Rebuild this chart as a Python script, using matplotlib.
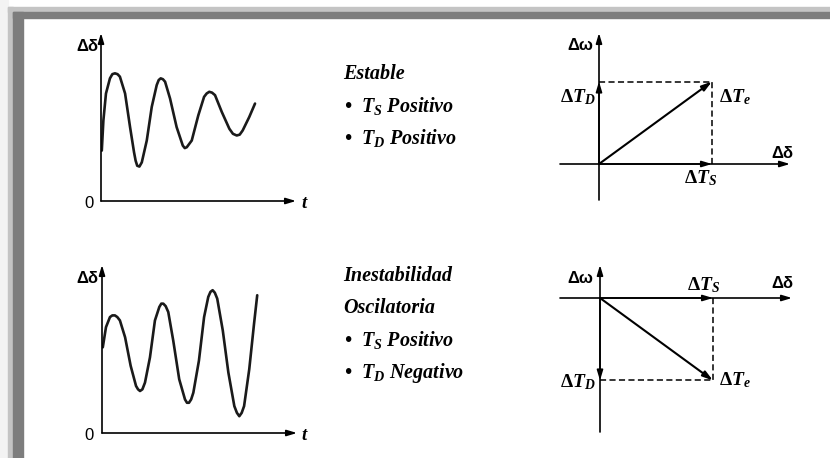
import matplotlib
matplotlib.use('Agg')
import matplotlib.pyplot as plt
from matplotlib.patches import Rectangle

# rotor angle response (time in arbitrary units, angle deviation normalised)
t_stable = [0.04, 0.12, 0.25, 0.45, 0.57, 0.70, 0.83, 0.95, 1.21, 1.46, 1.66, 1.74,
            1.82, 1.93, 2.05, 2.30, 2.55, 2.80, 2.90, 3.00, 3.11, 3.22, 3.47, 3.80,
            4.11, 4.21, 4.31, 4.56, 4.89, 5.18, 5.31, 5.44, 5.58, 5.73, 6.07, 6.45,
            6.63, 6.82, 6.97, 7.12, 7.45, 7.74]
d_stable = [0.30, 0.48, 0.64, 0.73, 0.755, 0.76, 0.755, 0.74, 0.64, 0.44, 0.29, 0.24,
            0.21, 0.205, 0.23, 0.36, 0.56, 0.69, 0.72, 0.73, 0.725, 0.71, 0.61, 0.44,
            0.33, 0.315, 0.32, 0.36, 0.51, 0.62, 0.64, 0.65, 0.645, 0.63, 0.53, 0.43,
            0.40, 0.39, 0.395, 0.42, 0.50, 0.58]

t_osc = [0.04, 0.20, 0.40, 0.52, 0.65, 0.77, 0.90, 1.16, 1.44, 1.71, 1.81, 1.91,
         2.03, 2.16, 2.41, 2.66, 2.88, 2.98, 3.08, 3.20, 3.33, 3.58, 3.88, 4.17,
         4.27, 4.37, 4.48, 4.59, 4.87, 5.13, 5.34, 5.45, 5.56, 5.67, 5.79, 6.07,
         6.35, 6.65, 6.78, 6.90, 7.02, 7.14, 7.40, 7.64, 7.80]
d_osc = [0.51, 0.63, 0.69, 0.70, 0.70, 0.69, 0.67, 0.57, 0.40, 0.28, 0.26, 0.25,
         0.26, 0.30, 0.45, 0.67, 0.75, 0.77, 0.77, 0.755, 0.72, 0.55, 0.32, 0.20,
         0.18, 0.18, 0.20, 0.24, 0.43, 0.69, 0.81, 0.84, 0.85, 0.835, 0.80, 0.61,
         0.36, 0.16, 0.12, 0.10, 0.12, 0.16, 0.38, 0.65, 0.82]

# torque components (synchronising, damping) for each case
Ts_stable, Td_stable = 1.0, 0.73
Ts_osc, Td_osc = 1.0, -0.73

plt.rcParams['mathtext.fontset'] = 'custom'
plt.rcParams['mathtext.rm'] = 'Liberation Serif'
plt.rcParams['mathtext.it'] = 'Liberation Serif:italic'
plt.rcParams['mathtext.bf'] = 'Liberation Serif:bold'
plt.rcParams['mathtext.bfit'] = 'Liberation Serif:italic:bold'

W, H = 830, 458
fig = plt.figure(figsize=(W / 100, H / 100), dpi=100)
fig.patch.set_facecolor('white')


def fx(x):
    return x / W


def fy(y):
    return 1 - y / H


def px_axes(x0, y0, x1, y1, xlim, ylim):
    ax = fig.add_axes([fx(x0), fy(y1), (x1 - x0) / W, (y1 - y0) / H])
    ax.set_xlim(*xlim)
    ax.set_ylim(*ylim)
    ax.axis('off')
    return ax


def arrow(ax, start, tip, lw=1.2, hl=0.6, hw=0.18):
    ax.annotate('', xy=tip, xytext=start, annotation_clip=False,
                arrowprops=dict(arrowstyle=f'-|>,head_length={hl},head_width={hw}',
                                color='black', lw=lw, shrinkA=0, shrinkB=0))


# window frame
fig.patches.append(Rectangle((0, 0), fx(8), 1, transform=fig.transFigure,
                             color='#f3f3f3', zorder=0))
fig.patches.append(Rectangle((fx(8), 0), fx(5), fy(7), transform=fig.transFigure,
                             color='#c4c4c4', zorder=1))
fig.patches.append(Rectangle((fx(8), fy(12)), 1, fy(7) - fy(12), transform=fig.transFigure,
                             color='#c4c4c4', zorder=1))
fig.patches.append(Rectangle((fx(13), 0), fx(10), fy(12), transform=fig.transFigure,
                             color='#7d7d7d', zorder=2))
fig.patches.append(Rectangle((fx(13), fy(18)), 1, fy(12) - fy(18), transform=fig.transFigure,
                             color='#7d7d7d', zorder=2))

sans = dict(family='Liberation Sans', fontweight='bold', fontsize=12)
serif = dict(family='Liberation Serif', style='italic', fontweight='bold', fontsize=14.5)
lab = dict(fontsize=14)


def time_panel(x0, y_axis, ts, ds):
    ax = px_axes(x0, y_axis - 168, x0 + 199, y_axis, (0, 10), (0, 1))
    arrow(ax, (0, 0), (0, 1.0), lw=1.2)
    arrow(ax, (0, 0), (9.8, 0), lw=1.2)
    ax.plot(ts, ds, color='#1a1a1a', lw=1.9, solid_joinstyle='round',
            solid_capstyle='round')
    fig.text(fx(98), fy(y_axis - 150), 'Δδ', ha='right', va='baseline', **sans)
    fig.text(fx(89), fy(y_axis + 2), '0', ha='center', va='center',
             family='Liberation Sans', fontsize=12)
    fig.text(fx(301), fy(y_axis + 3), 't', ha='left', va='center',
             family='Liberation Serif', style='italic', fontweight='bold', fontsize=13.5)
    return ax


def phasor_panel(ox, oy, ts, td, top, bottom, right):
    s = 113.0
    ax = px_axes(555, top - 3, 795, bottom + 3,
                 ((555 - ox) / s, (795 - ox) / s),
                 ((oy - (bottom + 3)) / s, (oy - (top - 3)) / s))
    xl = (560 - ox) / s
    arrow(ax, (xl, 0), ((right - ox) / s, 0), lw=1.2)
    arrow(ax, (0, (oy - bottom) / s), (0, (oy - top) / s), lw=1.2)
    ax.plot([0, ts], [td, td], color='black', lw=1.1, dashes=(4, 2.2))
    ax.plot([ts, ts], [0, td], color='black', lw=1.1, dashes=(4, 2.2))
    arrow(ax, (0, 0), (ts, 0), lw=1.2)
    arrow(ax, (0, 0), (0, td), lw=1.2)
    arrow(ax, (0, 0), (ts, td), lw=1.5)
    return ax


time_panel(101, 201, t_stable, d_stable)
time_panel(102, 433, t_osc, d_osc)

phasor_panel(599, 164, Ts_stable, Td_stable, 33, 200, 790)
phasor_panel(600, 298, Ts_osc, Td_osc, 265, 432, 792)

# phasor labels, stable case
fig.text(fx(580), fy(50), 'Δω', ha='center', va='baseline', **sans)
fig.text(fx(596), fy(102), r'$\mathbf{\Delta}\mathbfit{T}_{\mathbfit{D}}$', ha='right', va='baseline', **lab)
fig.text(fx(719), fy(102), r'$\mathbf{\Delta}\mathbfit{T}_{\mathbfit{e}}$', ha='left', va='baseline', **lab)
fig.text(fx(782), fy(158), 'Δδ', ha='center', va='baseline', **sans)
fig.text(fx(701), fy(183), r'$\mathbf{\Delta}\mathbfit{T}_{\mathbfit{S}}$', ha='center', va='baseline', **lab)

# phasor labels, oscillatory case
fig.text(fx(580), fy(283), 'Δω', ha='center', va='baseline', **sans)
fig.text(fx(704), fy(290), r'$\mathbf{\Delta}\mathbfit{T}_{\mathbfit{S}}$', ha='center', va='baseline', **lab)
fig.text(fx(782), fy(288), 'Δδ', ha='center', va='baseline', **sans)
fig.text(fx(596), fy(387), r'$\mathbf{\Delta}\mathbfit{T}_{\mathbfit{D}}$', ha='right', va='baseline', **lab)
fig.text(fx(719), fy(385), r'$\mathbf{\Delta}\mathbfit{T}_{\mathbfit{e}}$', ha='left', va='baseline', **lab)

# case descriptions
fig.text(fx(343), fy(79), 'Estable', ha='left', va='baseline', **serif)
fig.text(fx(344), fy(112), r'•  $\mathbfit{T}_{\mathbfit{S}}$ Positivo', ha='left', va='baseline', **serif)
fig.text(fx(344), fy(144), r'•  $\mathbfit{T}_{\mathbfit{D}}$ Positivo', ha='left', va='baseline', **serif)

fig.text(fx(343), fy(281), 'Inestabilidad', ha='left', va='baseline', **serif)
fig.text(fx(343), fy(313), 'Oscilatoria', ha='left', va='baseline', **serif)
fig.text(fx(344), fy(346), r'•  $\mathbfit{T}_{\mathbfit{S}}$ Positivo', ha='left', va='baseline', **serif)
fig.text(fx(344), fy(378), r'•  $\mathbfit{T}_{\mathbfit{D}}$ Negativo', ha='left', va='baseline', **serif)

fig.savefig('out.png', dpi=100, facecolor='white')
